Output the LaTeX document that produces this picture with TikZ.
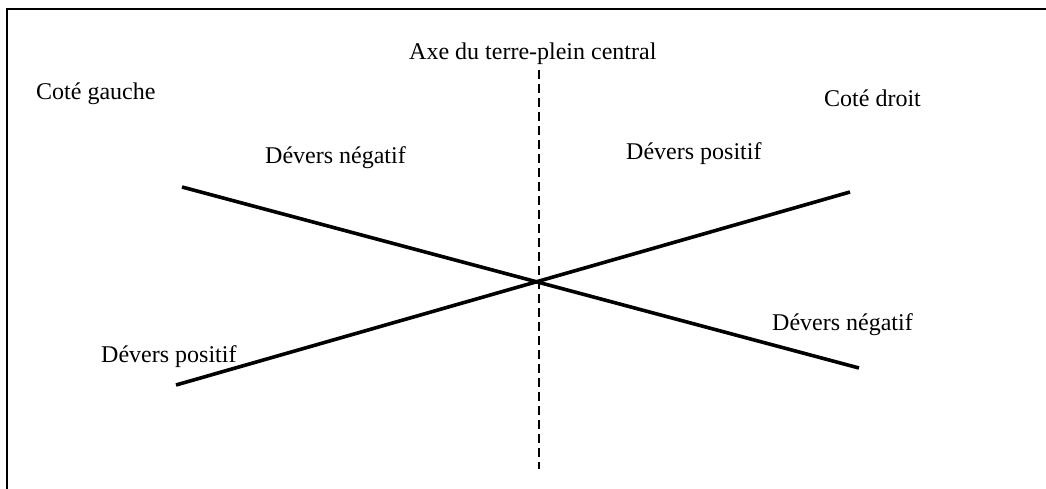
\documentclass[tikz,border=0pt]{standalone}
\usepackage{fontspec}
\setmainfont{Liberation Serif}
\begin{document}
\begin{tikzpicture}[x=1pt,y=-1pt,
  lbl/.style={anchor=base west,inner sep=0pt,font=\fontsize{24}{28}\selectfont},
  slope/.style={line width=3.6pt},
  axisline/.style={line width=2.6pt,dash pattern=on 9pt off 5pt},
  framel/.style={line width=2.2pt}]
\useasboundingbox (0,0) rectangle (1046,489);
\coordinate (fTR) at (1046,9);
\coordinate (fTL) at (7,9);
\coordinate (fBL) at (7,489);
\draw[framel] (fTR) -- (fTL) -- (fBL);
\coordinate (axT) at (539,70);
\coordinate (axB) at (539,469);
\draw[axisline] (axT) -- (axB);
\coordinate (nA) at (182,187);
\coordinate (nB) at (859,368);
\coordinate (pA) at (176,385);
\coordinate (pB) at (850,192);
\draw[slope] (nA) -- (nB);
\draw[slope] (pA) -- (pB);
\node[lbl] (axe) at (409,60) {Axe du terre-plein central};
\node[lbl] (cg) at (36,100) {Coté gauche};
\node[lbl] (cd) at (824,107) {Coté droit};
\node[lbl] (dn1) at (265,164) {Dévers négatif};
\node[lbl] (dp1) at (626,160) {Dévers positif};
\node[lbl] (dn2) at (772,330) {Dévers négatif};
\node[lbl] (dp2) at (101,362) {Dévers positif};
\end{tikzpicture}
\end{document}
